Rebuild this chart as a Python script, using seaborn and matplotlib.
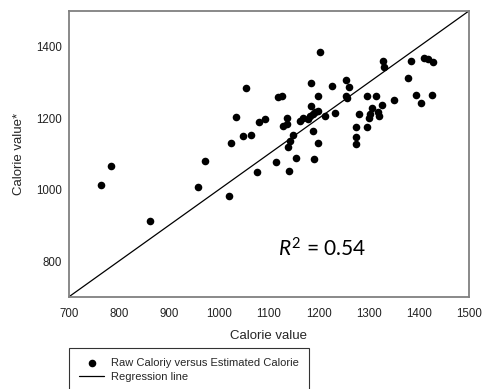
import numpy as np
import pandas as pd
import matplotlib
matplotlib.use("Agg")
import matplotlib.pyplot as plt
import seaborn as sns

# raw calorie value vs estimated calorie value
raw_cal = [764, 784, 862, 958, 972, 1020, 1024, 1034, 1048, 1054,
           1064, 1076, 1080, 1092, 1114, 1118, 1126, 1128, 1136, 1136,
           1138, 1140, 1142, 1148, 1154, 1162, 1168, 1178, 1182, 1184,
           1184, 1188, 1188, 1190, 1192, 1198, 1198, 1198, 1202, 1212,
           1226, 1232, 1254, 1254, 1256, 1260, 1274, 1274, 1274, 1280,
           1296, 1296, 1300, 1302, 1306, 1314, 1318, 1320, 1326, 1328,
           1330, 1350, 1378, 1384, 1394, 1404, 1410, 1418, 1428, 1426]
est_cal = [1012, 1066, 911, 1008, 1081, 983, 1131, 1203, 1150, 1283,
           1153, 1050, 1189, 1197, 1078, 1258, 1261, 1178, 1183, 1200,
           1119, 1053, 1136, 1153, 1089, 1192, 1200, 1197, 1206, 1297,
           1233, 1164, 1211, 1086, 1217, 1219, 1261, 1131, 1386, 1206,
           1289, 1214, 1308, 1261, 1256, 1286, 1175, 1147, 1128, 1211,
           1175, 1261, 1200, 1211, 1228, 1261, 1217, 1206, 1236, 1361,
           1342, 1250, 1311, 1361, 1264, 1242, 1369, 1364, 1358, 1264]

line_x = [700, 1500]
line_y = [700, 1500]

x_ticks = [700, 800, 900, 1000, 1100, 1200, 1300, 1400, 1500]
y_ticks = [800, 1000, 1200, 1400]

sns.set_style("white")
plt.rcParams["font.family"] = ["Liberation Sans", "DejaVu Sans"]
plt.rcParams["mathtext.fontset"] = "custom"
plt.rcParams["mathtext.rm"] = "Lato"
plt.rcParams["mathtext.it"] = "Lato:italic"

df = pd.DataFrame({"raw": raw_cal, "est": est_cal})
line_df = pd.DataFrame({"x": line_x, "y": line_y})

fig = plt.figure(figsize=(4.82, 3.89), dpi=100)
ax = fig.add_axes([0.143, 0.237, 0.830, 0.735])

sns.scatterplot(data=df, x="raw", y="est", ax=ax, color="black", s=30,
                edgecolor="black", linewidth=0, label="Raw Caloriy versus Estimated Calorie")
sns.lineplot(data=line_df, x="x", y="y", ax=ax, color="black", linewidth=0.9,
             label="Regression line")

ax.set_xlim(700, 1500)
ax.set_ylim(700, 1500)
ax.set_xticks(x_ticks)
ax.set_yticks(y_ticks)
ax.tick_params(axis="both", direction="out", length=3, width=0.8, color="#404040",
               labelsize=8.3, pad=2, labelcolor="#222222")
ax.tick_params(axis="x", pad=5)
for sp in ax.spines.values():
    sp.set_color("#808080")
    sp.set_linewidth(1.3)

ax.set_xlabel("Calorie value", fontsize=9.5, labelpad=7)
ax.set_ylabel("Calorie value*", fontsize=9.5, labelpad=8)

ax.text(1118, 833, "$R^2$ = 0.54", fontsize=15, family=["Lato", "DejaVu Sans"],
        ha="left", va="center", color="black")

ax.get_legend().remove()
handles, labels = ax.get_legend_handles_labels()
leg = fig.legend(handles, labels, loc="upper left", bbox_to_anchor=(0.143, 0.105),
                 fontsize=8, frameon=True, fancybox=False, edgecolor="black",
                 borderpad=0.9, handlelength=2.3, handletextpad=0.6,
                 labelspacing=0.35, borderaxespad=0)
leg.get_frame().set_linewidth(0.8)

fig.savefig("out.png", dpi=100)
